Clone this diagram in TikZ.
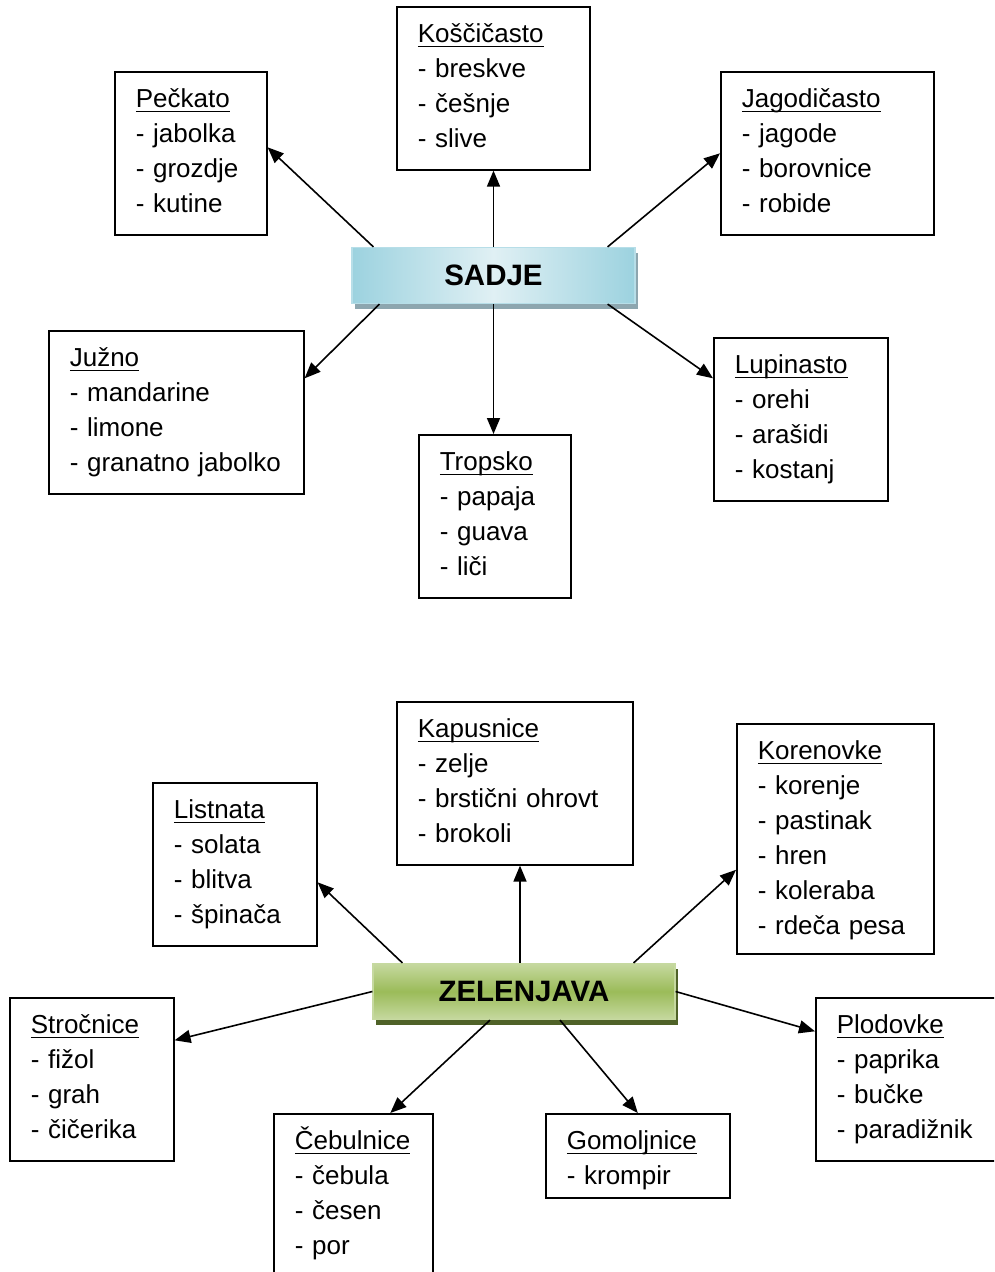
\documentclass[tikz,border=0pt]{standalone}
\usepackage{fontspec}
\setmainfont{Liberation Sans}
\usetikzlibrary{arrows.meta,shadows}
\definecolor{sadjesvetla}{HTML}{E0F0F4}
\definecolor{sadjemodra}{HTML}{9CD2DF}
\definecolor{sadjerob}{HTML}{B7DEE8}
\definecolor{sadjesenca}{HTML}{8DA6AF}
\definecolor{zelsvetla}{HTML}{C6D9A0}
\definecolor{zelzelena}{HTML}{9BBB59}
\definecolor{zelsenca}{HTML}{4F6228}
\newcommand{\podcrtano}[1]{\setbox0\hbox{#1}\rlap{\rule[-4.5pt]{\wd0}{1.8pt}}\box0}
\tikzset{
  vrsta/.style={draw, line width=1.6pt, anchor=north west, align=left, inner xsep=21pt, inner ysep=0pt,
    text height=36pt, text depth=127pt, font=\fontsize{26}{35}\selectfont},
  naslov/.style={line width=1.2pt, minimum height=56pt, inner sep=0pt, font=\bfseries\fontsize{29.5}{35}\selectfont},
  puscica/.style={line width=1.6pt, -{Triangle[length=16pt,width=13pt]}}
}
\begin{document}
\begin{tikzpicture}[x=1pt,y=-1pt]
\useasboundingbox (0,0) rectangle (994,1272);
\clip (0,0) rectangle (994,1272);
\node[naslov, draw=sadjerob, left color=sadjemodra, right color=sadjemodra, middle color=sadjesvetla,
  drop shadow={fill=sadjesenca, opacity=1, shadow xshift=3pt, shadow yshift=-5pt}, minimum width=283pt] (sadje) at (493.5,275.5) {SADJE};
\node[vrsta, text width=110pt] (peckato) at (114,71) {\podcrtano{Pečkato}\\- jabolka\\- grozdje\\- kutine};
\node[vrsta, text width=151pt] (koscicasto) at (396,6) {\podcrtano{Koščičasto}\\- breskve\\- češnje\\- slive};
\node[vrsta, text width=171pt] (jagodicasto) at (720,71) {\podcrtano{Jagodičasto}\\- jagode\\- borovnice\\- robide};
\node[vrsta, text width=213pt] (juzno) at (48,330) {\podcrtano{Južno}\\- mandarine\\- limone\\\mbox{- granatno jabolko}};
\node[vrsta, text width=110pt] (tropsko) at (418,434) {\podcrtano{Tropsko}\\- papaja\\- guava\\- liči};
\node[vrsta, text width=132pt] (lupinasto) at (713,337) {\podcrtano{Lupinasto}\\- orehi\\- arašidi\\- kostanj};
\draw[puscica] ([xshift=22pt]sadje.north west) -- ([yshift=6pt]peckato.east);
\draw[puscica] (sadje.north) -- (sadje.north |- koscicasto.south);
\draw[puscica] ([xshift=-28pt]sadje.north east) -- (jagodicasto.west);
\draw[puscica] ([xshift=28pt]sadje.south west) -- ([yshift=34pt]juzno.east);
\draw[puscica] (sadje.south) -- (sadje.south |- tropsko.north);
\draw[puscica] ([xshift=-28pt]sadje.south east) -- ([yshift=41pt]lupinasto.west);
\node[naslov, draw=zelsvetla, top color=zelsvetla, bottom color=zelsvetla, middle color=zelzelena,
  drop shadow={fill=zelsenca, opacity=1, shadow xshift=3pt, shadow yshift=-5pt}, minimum width=302pt] (zelenjava) at (524,991.5) {ZELENJAVA};
\node[vrsta, text width=194pt] (kapusnice) at (396,701) {\podcrtano{Kapusnice}\\- zelje\\- brstični ohrovt\\- brokoli};
\node[vrsta, text width=155pt, text depth=194pt] (korenovke) at (736,723) {\podcrtano{Korenovke}\\- korenje\\- pastinak\\- hren\\- koleraba\\- rdeča pesa};
\node[vrsta, text width=122pt] (listnata) at (152,782) {\podcrtano{Listnata}\\- solata\\- blitva\\- špinača};
\node[vrsta, text width=122pt] (strocnice) at (9,997) {\podcrtano{Stročnice}\\- fižol\\- grah\\- čičerika};
\node[vrsta, text width=117pt] (cebulnice) at (273,1113) {\podcrtano{Čebulnice}\\- čebula\\- česen\\- por};
\node[vrsta, text width=142pt, text depth=48pt] (gomoljnice) at (545,1113) {\podcrtano{Gomoljnice}\\- krompir};
\node[vrsta, text width=158pt] (plodovke) at (815,997) {\podcrtano{Plodovke}\\- paprika\\- bučke\\- paradižnik};
\draw[puscica] ([xshift=30pt]zelenjava.north west) -- ([yshift=-18pt]listnata.east);
\draw[puscica] ([xshift=-4pt]zelenjava.north) -- ([xshift=-4pt]zelenjava.north |- kapusnice.south);
\draw[puscica] ([xshift=-42pt]zelenjava.north east) -- ([yshift=-31pt]korenovke.west);
\draw[puscica] (zelenjava.west) -- ([yshift=39pt]strocnice.east);
\draw[puscica] ([xshift=-34pt]zelenjava.south) -- ([xshift=37pt]cebulnice.north);
\draw[puscica] ([xshift=36pt]zelenjava.south) -- (gomoljnice.north);
\draw[puscica] (zelenjava.east) -- ([yshift=48pt]plodovke.west);
\end{tikzpicture}
\end{document}
